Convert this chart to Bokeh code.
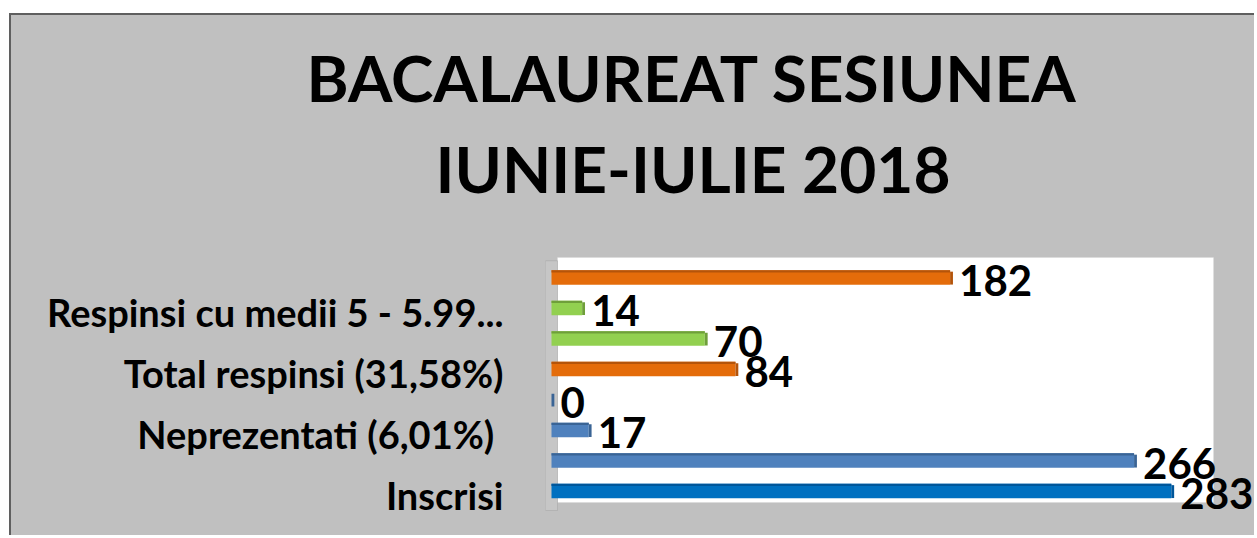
from bokeh.plotting import figure
from bokeh.models import ColumnDataSource, FixedTicker, Range1d, BoxAnnotation, Title
from bokeh.embed import file_html
from bokeh.resources import INLINE

# ---- data (bottom to top) ----
categories = ["Inscrisi", "", "Neprezentati  (6,01%)", "", "Total respinsi (31,58%)",
              "", "Respinsi cu medii 5 - 5.99...", ""]
values = [283, 266, 17, 0, 84, 70, 14, 182]
title_line1 = "BACALAUREAT  SESIUNEA"
title_line2 = "IUNIE-IULIE 2018"

# ---- styles ----
bar_colors = ["#0070c0", "#4f81bd", "#4f81bd", "#4f81bd", "#e46c0a", "#92d050", "#92d050", "#e46c0a"]
edge_colors = ["#00569a", "#3a6495", "#3a6495", "#3a6495", "#b4540a", "#6f9f3a", "#6f9f3a", "#b4540a"]
FONT = "Lato"
BG = "#c0c0c0"

idx = list(range(len(values)))
bar_h = 0.47
src = ColumnDataSource(dict(
    y=idx, v=values, lab=[str(v) for v in values],
    c=bar_colors, ec=edge_colors,
    ytop=[i + bar_h / 2 - 0.035 for i in idx],
    ycap=[i - 0.02 for i in idx],
    vcap=[v + 1.3 for v in values],
))

p = figure(width=1245, height=522,
           x_range=Range1d(-2.74, 321.9), y_range=Range1d(-1.525, 9.164),
           output_backend="svg", toolbar_location=None,
           min_border_left=534, min_border_right=0, min_border_top=196, min_border_bottom=0,
           background_fill_color=BG, border_fill_color=BG,
           outline_line_color=None,
           margin=(13, 0, 0, 9),
           styles={"border-top": "2px solid #5f5f5f", "border-left": "2px solid #5f5f5f",
                   "background-color": BG})

# white plot area and left wall (3D look)
p.add_layout(BoxAnnotation(left=2.74, right=302.3, bottom=-0.377, top=7.656,
                           fill_color="white", fill_alpha=1.0,
                           line_color="#d4d4d4", line_width=1, level="underlay"))
p.add_layout(BoxAnnotation(left=-2.74, right=2.74, bottom=-0.64, top=7.55,
                           fill_color="#c6c6c6", fill_alpha=1.0,
                           line_color="#8f8f8f", line_width=1, level="underlay"))

p.hbar(y="y", left=0, right="v", height=bar_h, fill_color="c", line_color=None, source=src)
p.hbar(y="ytop", left=0, right="v", height=0.07, fill_color="ec", line_color=None, source=src)
p.hbar(y="ycap", left="v", right="vcap", height=bar_h * 0.9, fill_color="ec", line_color=None, source=src)

p.text(x="v", y="y", text="lab", x_offset=9, y_offset=3,
       text_align="left", text_baseline="middle",
       text_font_size="42px", text_font_style="bold", text_color="black",
       text_font={"value": FONT}, source=src)

p.xaxis.visible = False
p.xgrid.visible = False
p.ygrid.visible = False

label_ticks = [i - 0.13 for i, c in enumerate(categories) if c]
p.yaxis.ticker = FixedTicker(ticks=label_ticks)
p.yaxis.major_label_overrides = {i - 0.13: c for i, c in enumerate(categories) if c}
p.yaxis.axis_line_color = None
p.yaxis.major_tick_line_color = None
p.yaxis.minor_tick_line_color = None
p.yaxis.major_label_standoff = 36
p.yaxis.major_label_text_font = FONT
p.yaxis.major_label_text_font_style = "bold"
p.yaxis.major_label_text_font_size = "38px"
p.yaxis.major_label_text_color = "black"

t2 = Title(text=title_line2, align="left", offset=-110, text_font=FONT, text_font_style="bold",
           text_font_size="64px", text_color="black", standoff=10)
t1 = Title(text=title_line1, align="left", offset=-239, text_font=FONT, text_font_style="bold",
           text_font_size="64px", text_color="black", standoff=14)
p.add_layout(t2, "above")
p.add_layout(t1, "above")

open("out.html", "w").write(file_html(p, INLINE))
